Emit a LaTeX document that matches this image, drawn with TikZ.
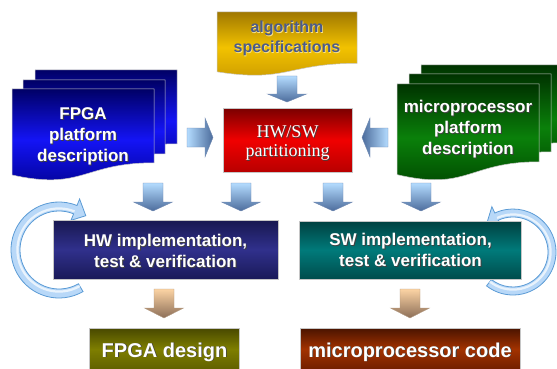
\documentclass[tikz,border=0pt]{standalone}
\usepackage{fontspec}
\setmainfont{Liberation Sans}
\newfontfamily\partfont{Liberation Serif}
\usetikzlibrary{calc}

% palette
\definecolor{navyTop}{HTML}{000066}
\definecolor{navyMid}{HTML}{1414F5}
\definecolor{navyBot}{HTML}{000090}
\definecolor{grnTop}{HTML}{003300}
\definecolor{grnMid}{HTML}{0A800A}
\definecolor{grnBot}{HTML}{004400}
\definecolor{goldTop}{HTML}{A07800}
\definecolor{goldMid}{HTML}{F2C200}
\definecolor{goldBot}{HTML}{C89800}
\definecolor{specText}{HTML}{4B5B8B}
\definecolor{redTop}{HTML}{7A0000}
\definecolor{redMid}{HTML}{F00000}
\definecolor{redBot}{HTML}{B80000}
\definecolor{hwTop}{HTML}{181850}
\definecolor{hwMid}{HTML}{30308C}
\definecolor{hwBot}{HTML}{1A1A58}
\definecolor{swTop}{HTML}{004040}
\definecolor{swMid}{HTML}{007A7A}
\definecolor{swBot}{HTML}{004C4C}
\definecolor{olTop}{HTML}{484800}
\definecolor{olMid}{HTML}{7E7E00}
\definecolor{olBot}{HTML}{606000}
\definecolor{brTop}{HTML}{4A1400}
\definecolor{brMid}{HTML}{A23200}
\definecolor{brBot}{HTML}{701E00}
\definecolor{arrLight}{HTML}{B4DCFF}
\definecolor{arrDark}{HTML}{4C6C9C}
\definecolor{arrEdge}{HTML}{7088B0}
\definecolor{orLight}{HTML}{FCD4A4}
\definecolor{orDark}{HTML}{8C6E58}
\definecolor{orEdge}{HTML}{B09880}
\definecolor{ringFill}{HTML}{B8D8F8}
\definecolor{ringEdge}{HTML}{5B9BD5}

% text with a dark drop shadow
\newcommand\shd[1]{\leavevmode\rlap{\kern0.9pt\raisebox{-0.9pt}{\textcolor{black!75}{#1}}}#1}
% text with a faint light glow beneath
\newcommand\lshd[1]{\leavevmode\rlap{\kern0.6pt\raisebox{-0.6pt}{\textcolor{goldMid!45!white}{#1}}}#1}

% flowchart "document" outline: x, y, width, height, style
\newcommand\docshape[5]{%
  \path[#5] (#1,#2) -- ({#1+#3},#2) -- ({#1+#3},{#2+0.802*#4})
    .. controls ({#1+0.5*#3},{#2+0.802*#4}) and ({#1+0.5*#3},{#2+1.107*#4})
    .. (#1,{#2+0.934*#4}) -- cycle;}

% block arrow pointing down: centre x, top, tip, head length, style
\newcommand\blkdown[5]{%
  \path[#5] ({#1-10},#2) -- ({#1+10},#2) -- ({#1+10},{#3-#4}) -- ({#1+19.5},{#3-#4})
    -- (#1,#3) -- ({#1-19.5},{#3-#4}) -- ({#1-10},{#3-#4}) -- cycle;}
% block arrow pointing right: tail x, tip x, centre y, style
\newcommand\blkright[4]{%
  \path[#4] (#1,{#3-9.5}) -- ({#2-8},{#3-9.5}) -- ({#2-8},{#3-19.5}) -- (#2,#3)
    -- ({#2-8},{#3+19.5}) -- ({#2-8},{#3+9.5}) -- (#1,{#3+9.5}) -- cycle;}
% block arrow pointing left: tail x, tip x, centre y, style
\newcommand\blkleft[4]{%
  \path[#4] (#1,{#3-9.5}) -- ({#2+8},{#3-9.5}) -- ({#2+8},{#3-19.5}) -- (#2,#3)
    -- ({#2+8},{#3+19.5}) -- ({#2+8},{#3+9.5}) -- (#1,{#3+9.5}) -- cycle;}
% circular arrow band: centre name, outer r, inner r, start, end, tip angle
\newcommand\ringarrow[6]{%
  \path[ring] ($(#1)+(#4:#2)$) arc[start angle=#4, end angle=#5, radius=#2]
    -- ($(#1)+(#5:{#2+7})$) -- ($(#1)+(#6:{(#2+#3)/2})$) -- ($(#1)+(#5:{#3-7})$)
    -- ($(#1)+(#5:#3)$) arc[start angle=#5, end angle=#4, radius=#3] -- cycle;
  \draw[white, opacity=0.7, line width=2.2pt]
    ($(#1)+(#4:{#3+2.6})$) arc[start angle=#4, end angle=#5, radius={#3+2.6}];}

\begin{document}
\begin{tikzpicture}[x=1pt,y=-1pt,
  outline/.style={draw=gray!45, line width=0.5pt},
  bluedoc/.style={outline, top color=navyTop, bottom color=navyBot, middle color=navyMid},
  greendoc/.style={outline, top color=grnTop, bottom color=grnBot, middle color=grnMid},
  golddoc/.style={outline, top color=goldTop, bottom color=goldBot, middle color=goldMid},
  boxnode/.style={outline, rectangle, inner sep=0pt},
  lbl/.style={text=white, font=\bfseries\fontsize{17}{21}\selectfont, align=center, inner sep=0pt},
  bigLbl/.style={text=white, font=\bfseries\fontsize{20}{24}\selectfont, inner sep=0pt, anchor=base},
  arrowedge/.style={draw=arrEdge, line width=0.4pt},
  bluedown/.style={arrowedge, top color=arrLight, bottom color=arrDark},
  blueright/.style={arrowedge, left color=arrLight, right color=arrDark},
  blueleft/.style={arrowedge, left color=arrDark, right color=arrLight},
  orangedown/.style={draw=orEdge, line width=0.4pt, top color=orLight, bottom color=orDark},
  ring/.style={draw=ringEdge, line width=0.8pt, fill=ringFill}]

\useasboundingbox (0,0) rectangle (557,369);

% --- platform description stacks
\docshape{35}{70}{142}{92}{bluedoc}
\docshape{23}{80}{142}{92}{bluedoc}
\docshape{12}{89}{142}{92}{bluedoc}
\node[lbl] (fpgaplat) at (83,137) {\shd{FPGA}\\\shd{platform}\\\shd{description}};

\docshape{421}{65}{142}{97}{greendoc}
\docshape{409}{74}{142}{97}{greendoc}
\docshape{397}{84}{142}{97}{greendoc}
\node[lbl] (mpplat) at (468,129.5) {\shd{microprocessor}\\\shd{platform}\\\shd{description}};

% --- algorithm specifications
\docshape{217}{12}{140}{64}{golddoc}
\node[text=specText, font=\bfseries\fontsize{16}{20}\selectfont, align=center, inner sep=0pt]
  (spec) at (287,39) {\lshd{algorithm}\\\lshd{specifications}};

% --- partitioning
\node[boxnode, minimum width=129pt, minimum height=64pt,
      top color=redTop, bottom color=redBot, middle color=redMid] (part) at (287.5,140) {};
\node[text=white, font=\partfont\fontsize{18}{19}\selectfont, align=center, inner sep=0pt]
  (partlbl) at (287.5,143.2) {\shd{HW/SW}\\\shd{partitioning}};

% --- feedback rings
\coordinate (hwring) at (59,250);
\coordinate (swring) at (513,252);
\ringarrow{hwring}{48}{39}{60}{292}{308}
\ringarrow{swring}{43}{35}{128}{-115}{-132}

% --- implementation boxes
\node[boxnode, minimum width=225pt, minimum height=59pt,
      top color=hwTop, bottom color=hwBot, middle color=hwMid] (hw) at (165.5,249.5) {};
\node[lbl] (hwlbl) at (165.5,251) {\shd{HW implementation,}\\\shd{test \& verification}};

\node[boxnode, minimum width=222pt, minimum height=58pt,
      top color=swTop, bottom color=swBot, middle color=swMid] (sw) at (410,250) {};
\node[lbl] (swlbl) at (410.5,250) {\shd{SW implementation,}\\\shd{test \& verification}};

% --- results
\node[boxnode, minimum width=150pt, minimum height=42pt,
      top color=olTop, bottom color=olBot, middle color=olMid] (fpgadesign) at (164,349) {};
\node[bigLbl] (fpgadesignlbl) at (164.5,357) {\shd{FPGA design}};

\node[boxnode, minimum width=220pt, minimum height=42pt,
      top color=brTop, bottom color=brBot, middle color=brMid] (mpcode) at (410,349) {};
\node[bigLbl] (mpcodelbl) at (410,357) {\shd{microprocessor code}};

% --- block arrows
\blkdown{287}{76}{102}{8}{bluedown}
\blkright{187}{213}{137.5}{blueright}
\blkleft{388}{362}{137.5}{blueleft}
\blkdown{153}{183}{211}{9}{bluedown}
\blkdown{241}{183}{211}{9}{bluedown}
\blkdown{333}{183}{211}{9}{bluedown}
\blkdown{421}{183}{211}{9}{bluedown}
\blkdown{164}{289}{318}{10}{orangedown}
\blkdown{410}{289}{318}{10}{orangedown}
\end{tikzpicture}
\end{document}
